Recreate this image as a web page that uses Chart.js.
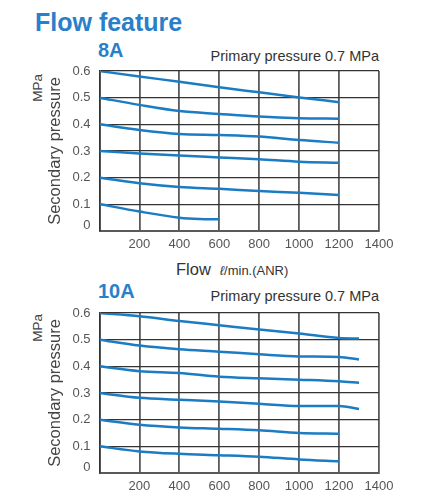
<!DOCTYPE html>
<html>
<head>
<meta charset="utf-8">
<script src="https://cdn.jsdelivr.net/npm/chart.js@4"></script>
<style>
  html, body { margin: 0; padding: 0; background: #fff; }
  body { width: 443px; height: 498px; position: relative; overflow: hidden; font-family: "Liberation Sans", Arial, sans-serif; }
  .txt { position: absolute; line-height: 1; white-space: nowrap; }
  .blue { color: #2a7fc9; font-weight: bold; }
  .note { color: #333; font-size: 14.5px; right: 64px; }
  .mpa { color: #444; font-size: 13.5px; transform: rotate(-90deg); transform-origin: center center; }
  canvas { position: absolute; left: 0; }
</style>
</head>
<body>
<div class="txt blue" style="left:35px;top:10px;font-size:25px;">Flow feature</div>
<div class="txt blue" style="left:98px;top:40px;font-size:20px;">8A</div>
<div class="txt note" style="top:49px;">Primary pressure 0.7 MPa</div>
<div class="txt mpa" style="left:24px;top:81px;">MPa</div>
<canvas id="chart8A" width="400" height="195" style="top:60px;"></canvas>

<div class="txt" style="left:176px;top:261px;color:#333;font-size:16.5px;">Flow<span style="font-size:13px;margin-left:9px;"><i>ℓ</i>/min.(ANR)</span></div>
<div class="txt blue" style="left:98px;top:281px;font-size:20px;">10A</div>
<div class="txt note" style="top:289px;">Primary pressure 0.7 MPa</div>
<div class="txt mpa" style="left:24px;top:321px;">MPa</div>
<canvas id="chart10A" width="400" height="195" style="top:302px;"></canvas>

<script>
'use strict';

const BLUE = '#1b7cc3';
const FONT = '"Liberation Sans", Arial, sans-serif';

// x / y tick values
const flowTicks = [0, 200, 400, 600, 800, 1000, 1200, 1400];
const pressureTicks = [0, 0.1, 0.2, 0.3, 0.4, 0.5, 0.6];

/* ─── 8A ─── */
const flow8A = [0, 200, 400, 600, 800, 1000, 1200];
const flow8AShort = [0, 200, 400, 500, 600];
const p8A_06 = [0.600, 0.579, 0.560, 0.539, 0.520, 0.501, 0.483];
const p8A_05 = [0.500, 0.473, 0.450, 0.439, 0.429, 0.423, 0.421];
const p8A_04 = [0.400, 0.379, 0.364, 0.360, 0.354, 0.341, 0.331];
const p8A_03 = [0.300, 0.291, 0.283, 0.276, 0.269, 0.260, 0.256];
const p8A_02 = [0.200, 0.179, 0.165, 0.158, 0.150, 0.143, 0.135];
const p8A_01 = [0.101, 0.073, 0.050, 0.045, 0.044];

/* ─── 10A ─── */
const flow10A = [0, 200, 400, 600, 800, 1000, 1200, 1300];
const flow10AShort = [0, 200, 400, 600, 800, 1000, 1200];
const p10A_06 = [0.600, 0.588, 0.570, 0.554, 0.538, 0.523, 0.506, 0.504];
const p10A_05 = [0.500, 0.478, 0.464, 0.455, 0.445, 0.437, 0.435, 0.426];
const p10A_04 = [0.400, 0.382, 0.375, 0.361, 0.355, 0.350, 0.344, 0.338];
const p10A_03 = [0.300, 0.282, 0.275, 0.268, 0.260, 0.251, 0.251, 0.240];
const p10A_02 = [0.200, 0.181, 0.171, 0.166, 0.160, 0.150, 0.147];
const p10A_01 = [0.100, 0.081, 0.072, 0.067, 0.061, 0.051, 0.044];

const series8A = [
  [flow8A, p8A_06], [flow8A, p8A_05], [flow8A, p8A_04],
  [flow8A, p8A_03], [flow8A, p8A_02], [flow8AShort, p8A_01]
];
const series10A = [
  [flow10A, p10A_06], [flow10A, p10A_05], [flow10A, p10A_04],
  [flow10A, p10A_03], [flow10AShort, p10A_02], [flow10AShort, p10A_01]
];

// "0" on the pressure axis sits a little above the bottom line
const zeroLabel = {
  id: 'zeroLabel',
  afterDraw(chart) {
    const { ctx, chartArea, scales } = chart;
    ctx.save();
    ctx.font = '13px ' + FONT;
    ctx.fillStyle = '#555';
    ctx.textAlign = 'right';
    ctx.textBaseline = 'middle';
    ctx.fillText('0', chartArea.left - 9, scales.y.getPixelForValue(pressureTicks[0]) - 6);
    ctx.restore();
  }
};

function makeChart(id, series) {
  return new Chart(document.getElementById(id), {
    type: 'line',
    data: {
      datasets: series.map(([xs, ys]) => ({
        data: xs.map((x, i) => ({ x, y: ys[i] })),
        borderColor: BLUE,
        borderWidth: 2.5,
        pointRadius: 0,
        fill: false,
        cubicInterpolationMode: 'monotone'
      }))
    },
    options: {
      responsive: false,
      animation: false,
      layout: { padding: { top: 11, right: 21, left: 0, bottom: 0 } },
      plugins: { legend: { display: false }, tooltip: { enabled: false } },
      scales: {
        x: {
          type: 'linear',
          min: flowTicks[0],
          max: flowTicks[flowTicks.length - 1],
          afterBuildTicks: s => { s.ticks = flowTicks.map(v => ({ value: v })); },
          ticks: {
            callback: v => v === 0 ? '' : v,
            color: '#555', padding: 6, maxRotation: 0, autoSkip: false,
            font: { family: FONT, size: 13 }
          },
          grid: { color: '#5a5a5a', lineWidth: 1.8, drawTicks: false },
          border: { color: '#5a5a5a', width: 2 },
          afterFit: s => { s.height = 24; }
        },
        y: {
          min: 0,
          max: 0.6,
          afterBuildTicks: s => { s.ticks = pressureTicks.map(v => ({ value: v })); },
          ticks: {
            callback: v => v === 0 ? '' : v.toFixed(1),
            color: '#555', padding: 9,
            font: { family: FONT, size: 13 }
          },
          title: {
            display: true, text: 'Secondary pressure', color: '#444',
            font: { family: FONT, size: 16.5 },
            padding: { top: 46, bottom: 0 }
          },
          grid: { color: '#333', lineWidth: 1.3, drawTicks: false },
          border: { color: '#333', width: 1.5 },
          afterFit: s => { s.width = 99.5; s.paddingTop = 0; s.paddingBottom = 0; }
        }
      }
    },
    plugins: [zeroLabel]
  });
}

makeChart('chart8A', series8A);
makeChart('chart10A', series10A);
</script>
</body>
</html>
